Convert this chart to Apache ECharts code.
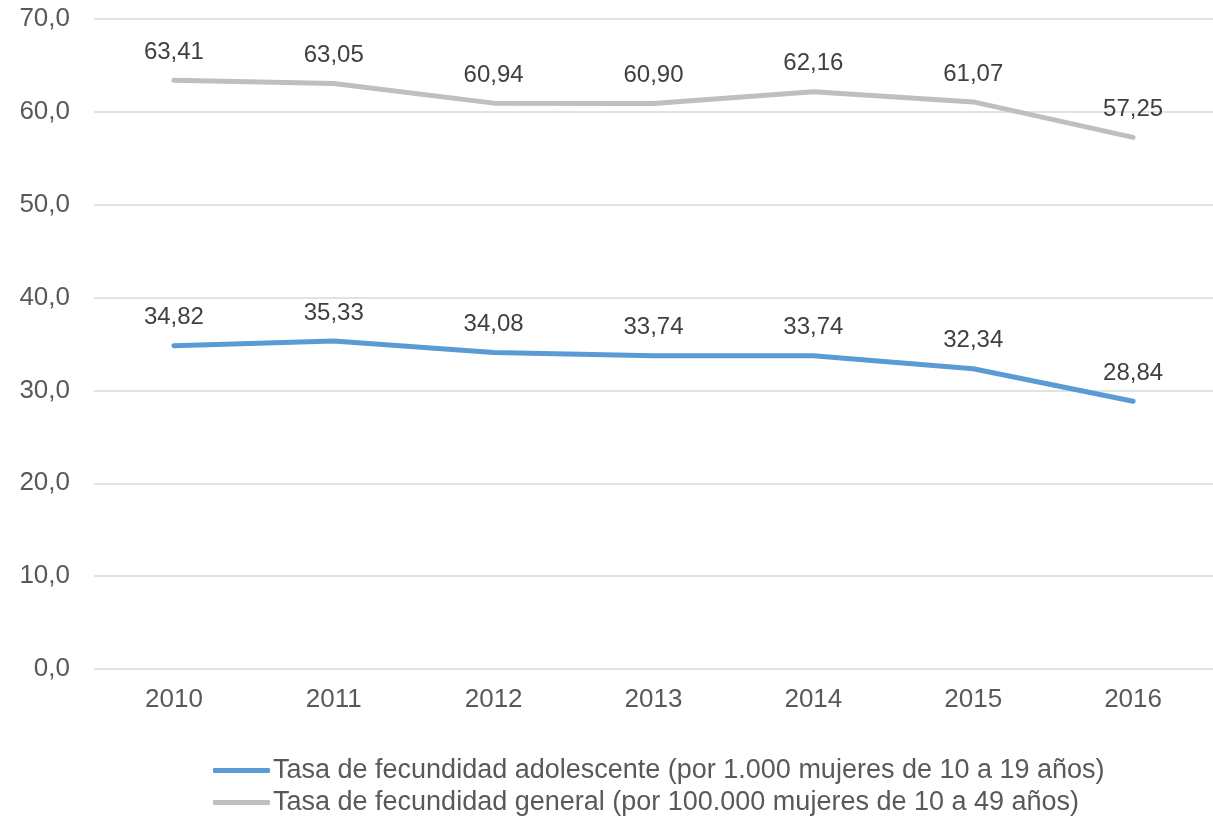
<!DOCTYPE html>
<html><head><meta charset="utf-8">
<script src="https://cdn.jsdelivr.net/npm/echarts@6/dist/echarts.min.js"></script>
<style>html,body{margin:0;padding:0;background:#fff}#c{width:1213px;height:818px}</style>
</head><body><div id="c"></div>
<script>
const years = ['2010','2011','2012','2013','2014','2015','2016'];
const adolescente = [34.82, 35.33, 34.08, 33.74, 33.74, 32.34, 28.84];
const general = [63.41, 63.05, 60.94, 60.90, 62.16, 61.07, 57.25];
const nameAdol = 'Tasa de fecundidad adolescente (por 1.000 mujeres de 10 a 19 años)';
const nameGen = 'Tasa de fecundidad general (por 100.000 mujeres de 10 a 49 años)';
const FONT = '"Liberation Sans", Arial, sans-serif';
const FS = 26;
const chart = echarts.init(document.getElementById('c'));
const lbl = {show:true, position:'top', distance:16, color:'#404040', fontSize:24, fontFamily:FONT,
  formatter: p => Number(p.value).toFixed(2).replace('.', ',')};
chart.setOption({
  animation:false,
  textStyle:{fontFamily:FONT},
  grid:{left:94, right:-17, top:19, bottom:149, containLabel:false},
  xAxis:{type:'category', data:years, boundaryGap:true,
    axisLine:{show:false}, axisTick:{show:false},
    axisLabel:{color:'#595959', fontSize:FS, fontFamily:FONT, margin:18}},
  yAxis:{type:'value', min:0, max:70, interval:10,
    axisLine:{show:false}, axisTick:{show:false},
    splitLine:{lineStyle:{color:'#d9d9d9', width:1.5}},
    axisLabel:{color:'#595959', fontSize:FS, fontFamily:FONT, margin:24,
      formatter: v => v.toFixed(1).replace('.', ',')}},
  legend:{orient:'vertical', left:213, top:757, padding:0, itemGap:5, itemWidth:57, itemHeight:5,
    icon:'roundRect',
    textStyle:{color:'#595959', fontSize:27, fontFamily:FONT, lineHeight:26, padding:[0,0,0,-2]},
    data:[nameAdol, nameGen]},
  series:[
    {name:nameAdol, type:'line', data:adolescente, symbol:'circle', symbolSize:0.01, showSymbol:true,
      lineStyle:{color:'#5b9bd5', width:5, cap:'round'}, itemStyle:{color:'#5b9bd5'}, label:lbl},
    {name:nameGen, type:'line', data:general, symbol:'circle', symbolSize:0.01, showSymbol:true,
      lineStyle:{color:'#bfbfbf', width:5, cap:'round'}, itemStyle:{color:'#bfbfbf'}, label:lbl}
  ]
});
</script></body></html>
